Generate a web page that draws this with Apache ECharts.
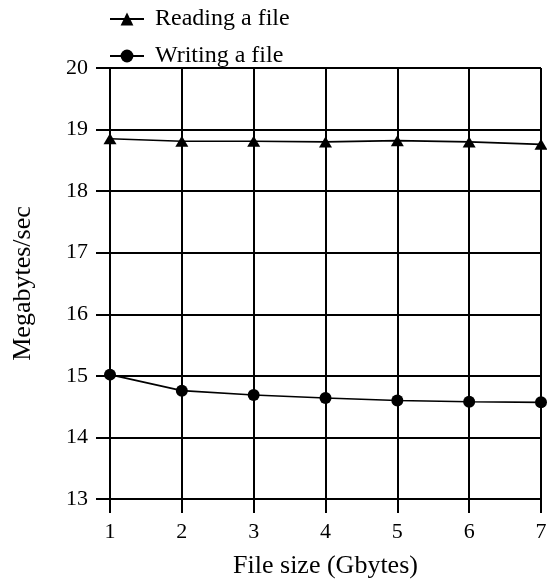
<!DOCTYPE html>
<html><head><meta charset="utf-8">
<script src="https://cdn.jsdelivr.net/npm/echarts@6/dist/echarts.min.js"></script>
<style>html,body{margin:0;padding:0;background:#fff}#c{width:547px;height:580px}</style>
</head><body><div id="c"></div>
<script>
const fileSizes = [1, 2, 3, 4, 5, 6, 7];
const readingMBs = [18.85, 18.81, 18.81, 18.80, 18.82, 18.80, 18.76];
const writingMBs = [15.02, 14.76, 14.69, 14.64, 14.60, 14.58, 14.57];
const seriesNames = ['Reading a file', 'Writing a file'];
const xTitle = 'File size (Gbytes)';
const yTitle = 'Megabytes/sec';

const F = 'Liberation Serif';
const chart = echarts.init(document.getElementById('c'));
chart.setOption({
  animation: false,
  backgroundColor: '#fff',
  grid: { left: 110, right: 6, top: 68, bottom: 81, containLabel: false, outerBoundsMode: 'none' },
  legend: {
    orient: 'vertical', left: 104, top: 2, itemGap: 13,
    itemWidth: 34, itemHeight: 16,
    textStyle: { fontFamily: F, fontSize: 24, color: '#000', padding: [0, 0, 0, 6] },
    data: seriesNames
  },
  xAxis: {
    type: 'value', min: 1, max: 7, interval: 1,
    name: xTitle, nameLocation: 'middle', nameGap: 54,
    nameTextStyle: { fontFamily: F, fontSize: 26, color: '#000' },
    axisLine: { show: true, lineStyle: { color: '#000', width: 2 } },
    axisTick: { show: true, length: 14, lineStyle: { color: '#000', width: 2 } },
    axisLabel: { fontFamily: F, fontSize: 22, color: '#000', margin: 22 },
    splitLine: { show: true, lineStyle: { color: '#000', width: 2 } }
  },
  yAxis: {
    type: 'value', min: 13, max: 20, interval: 1,
    name: yTitle, nameLocation: 'middle', nameGap: 74, nameRotate: 90,
    nameTextStyle: { fontFamily: F, fontSize: 26, color: '#000' },
    axisLine: { show: true, lineStyle: { color: '#000', width: 2 } },
    axisTick: { show: true, length: 14, lineStyle: { color: '#000', width: 2 } },
    axisLabel: { fontFamily: F, fontSize: 22, color: '#000', margin: 22 },
    splitLine: { show: true, lineStyle: { color: '#000', width: 2 } }
  },
  series: [
    {
      name: seriesNames[0], type: 'line',
      data: fileSizes.map((x, i) => [x, readingMBs[i]]),
      symbol: 'triangle', symbolSize: [13, 11],
      lineStyle: { color: '#000', width: 1.6 },
      itemStyle: { color: '#000' }
    },
    {
      name: seriesNames[1], type: 'line',
      data: fileSizes.map((x, i) => [x, writingMBs[i]]),
      symbol: 'circle', symbolSize: 12,
      lineStyle: { color: '#000', width: 1.6 },
      itemStyle: { color: '#000' }
    }
  ]
});
</script></body></html>
